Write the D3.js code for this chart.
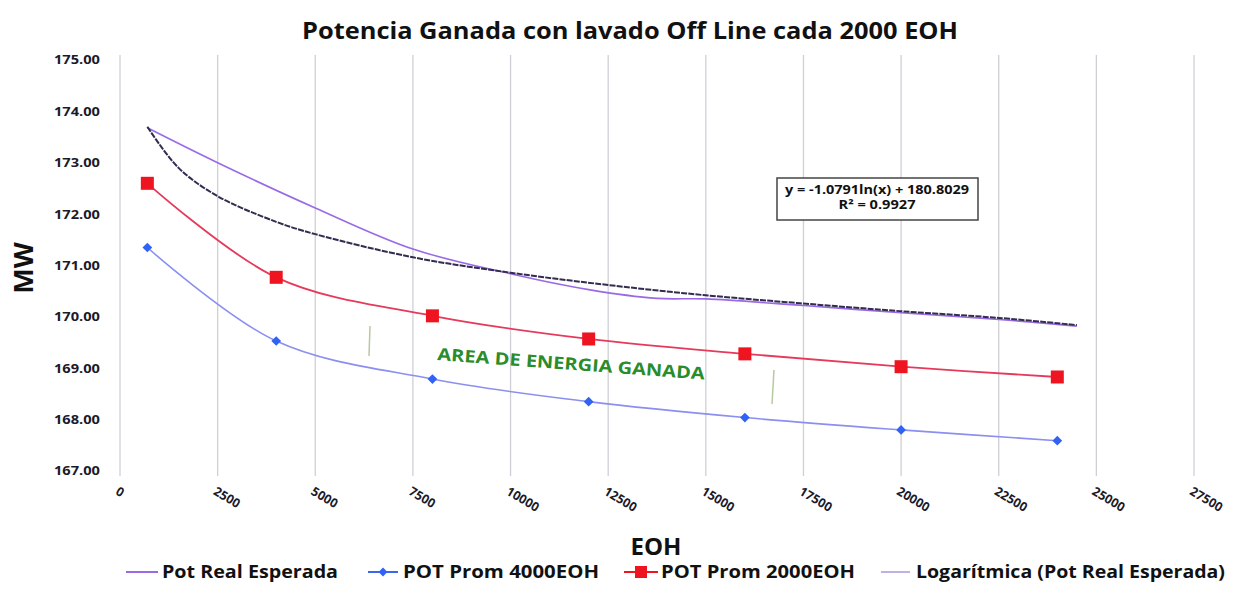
<!DOCTYPE html>
<html>
<head>
<meta charset="utf-8">
<script src="https://cdn.jsdelivr.net/npm/d3@7"></script>
<style>
  body { margin: 0; background: #fff; }
  svg { display: block; font-family: "Open Sans", Lato, sans-serif; font-weight: bold; }
</style>
</head>
<body>
<svg id="chart" width="1239" height="593"></svg>
<script>
// sample points (EOH) for the two averaged series
const eohPts = [700, 4000, 8000, 12000, 16000, 20000, 24000];
const pot4000 = [171.35, 169.53, 168.79, 168.35, 168.04, 167.80, 167.59];
const pot2000 = [172.60, 170.77, 170.02, 169.57, 169.28, 169.03, 168.83];

// expected real power
const realEOH = [700, 2500, 5000, 7500, 10000, 12000, 13750, 15000, 17500, 20000, 22500, 24500];
const realMW = [173.68, 173.00, 172.12, 171.32, 170.84, 170.53, 170.36, 170.35, 170.22, 170.08, 169.95, 169.82];

// logarithmic trend line as drawn
const trendEOH = [700, 1500, 2500, 4000, 5000, 7500, 10000, 12500, 15000, 17500, 20000, 22500, 24500];
const trendMW = [173.70, 172.90, 172.35, 171.85, 171.61, 171.16, 170.86, 170.62, 170.42, 170.26, 170.11, 169.98, 169.84];

const xTicks = [0, 2500, 5000, 7500, 10000, 12500, 15000, 17500, 20000, 22500, 25000, 27500];
const yTicks = [167, 168, 169, 170, 171, 172, 173, 174, 175];
const equation = ['y = -1.0791ln(x) + 180.8029', 'R² = 0.9927'];

const svg = d3.select('#chart');

const x = d3.scaleLinear().domain([0, 27500]).range([120, 1194]);
const y = d3.scaleLinear().domain([167, 175]).range([471, 60]);

// title
svg.append('text')
  .attr('x', 302).attr('y', 39)
  .attr('font-size', 23)
  .attr('fill', '#111')
  .attr('textLength', 656)
  .attr('lengthAdjust', 'spacingAndGlyphs')
  .text('Potencia Ganada con lavado Off Line cada 2000 EOH');

// vertical grid
svg.append('g')
  .selectAll('line')
  .data(xTicks)
  .join('line')
  .attr('x1', d => x(d)).attr('x2', d => x(d))
  .attr('y1', 55).attr('y2', 476)
  .attr('stroke', '#cfcfd8')
  .attr('stroke-width', 1.3);

// y tick labels
svg.append('g')
  .selectAll('text')
  .data(yTicks)
  .join('text')
  .attr('x', 54)
  .attr('y', d => y(d))
  .attr('dy', '0.35em')
  .attr('font-size', 12.5)
  .attr('fill', '#1a1a2a')
  .attr('textLength', 46)
  .attr('lengthAdjust', 'spacingAndGlyphs')
  .text(d => d.toFixed(2));

// x tick labels, rotated
svg.append('g')
  .selectAll('text')
  .data(xTicks)
  .join('text')
  .attr('transform', d => `translate(${x(d) - 3},${490}) rotate(31)`)
  .attr('dy', '0.35em')
  .attr('font-size', 12.5)
  .attr('fill', '#1a1a2a')
  .text(d => d);

// axis titles
svg.append('text')
  .attr('transform', 'translate(33,268) rotate(-90)')
  .attr('text-anchor', 'middle')
  .attr('font-size', 27)
  .attr('fill', '#111')
  .text('MW');

svg.append('text')
  .attr('x', 656).attr('y', 555)
  .attr('text-anchor', 'middle')
  .attr('font-size', 24)
  .attr('fill', '#111')
  .text('EOH');

const smooth = d3.line().curve(d3.curveCatmullRom.alpha(0.5));

// expected real power
svg.append('path')
  .attr('d', smooth(realEOH.map((d, i) => [x(d), y(realMW[i])])))
  .attr('fill', 'none')
  .attr('stroke', '#9a6ae6')
  .attr('stroke-width', 1.6);

// log trend
svg.append('path')
  .attr('d', smooth(trendEOH.map((d, i) => [x(d), y(trendMW[i])])))
  .attr('fill', 'none')
  .attr('stroke', '#322c4e')
  .attr('stroke-width', 2)
  .attr('stroke-dasharray', '6,1.2');

// POT Prom 4000EOH
svg.append('path')
  .attr('d', smooth(eohPts.map((d, i) => [x(d), y(pot4000[i])])))
  .attr('fill', 'none')
  .attr('stroke', '#8a8ff0')
  .attr('stroke-width', 1.6);

svg.append('g')
  .selectAll('path')
  .data(eohPts)
  .join('path')
  .attr('d', d3.symbol(d3.symbolDiamond2, 60))
  .attr('transform', (d, i) => `translate(${x(d)},${y(pot4000[i])})`)
  .attr('fill', '#2f62f5');

// POT Prom 2000EOH
svg.append('path')
  .attr('d', smooth(eohPts.map((d, i) => [x(d), y(pot2000[i])])))
  .attr('fill', 'none')
  .attr('stroke', '#e63a5c')
  .attr('stroke-width', 1.8);

svg.append('g')
  .selectAll('rect')
  .data(eohPts)
  .join('rect')
  .attr('x', d => x(d) - 6.5)
  .attr('y', (d, i) => y(pot2000[i]) - 6.5)
  .attr('width', 13).attr('height', 13)
  .attr('fill', '#ee1520');

// energy gained annotation
svg.append('line')
  .attr('x1', 370).attr('x2', 369).attr('y1', 326).attr('y2', 356)
  .attr('stroke', '#b8c8a0').attr('stroke-width', 1.5);
svg.append('line')
  .attr('x1', 774).attr('x2', 772).attr('y1', 370).attr('y2', 404)
  .attr('stroke', '#b8c8a0').attr('stroke-width', 1.5);

svg.append('text')
  .attr('transform', 'translate(437,360) rotate(4.2)')
  .attr('font-size', 17)
  .attr('fill', '#2a8c2a')
  .attr('textLength', 268)
  .attr('lengthAdjust', 'spacingAndGlyphs')
  .text('AREA DE ENERGIA GANADA');

// equation box
const eq = svg.append('g');
eq.append('rect')
  .attr('x', 777).attr('y', 178)
  .attr('width', 201).attr('height', 42)
  .attr('fill', '#fff')
  .attr('stroke', '#444')
  .attr('stroke-width', 1.5);
eq.selectAll('text')
  .data(equation)
  .join('text')
  .attr('x', 877)
  .attr('y', (d, i) => 194 + i * 15)
  .attr('text-anchor', 'middle')
  .attr('font-size', 11.5)
  .attr('fill', '#111')
  .attr('textLength', (d, i) => i === 0 ? 184 : 77)
  .attr('lengthAdjust', 'spacingAndGlyphs')
  .text(d => d);

// legend
const legend = svg.append('g').attr('font-size', 17).attr('fill', '#111');
const ly = 572;
const items = [
  { x0: 126, x1: 158, tx: 162, w: 176, color: '#9a6ae6', label: 'Pot Real Esperada', mark: null },
  { x0: 368, x1: 398, tx: 403, w: 196, color: '#3a66f0', label: 'POT Prom 4000EOH', mark: 'diamond' },
  { x0: 624, x1: 658, tx: 661, w: 194, color: '#ee1520', label: 'POT Prom 2000EOH', mark: 'square' },
  { x0: 881, x1: 910, tx: 916, w: 309, color: '#c4aee6', label: 'Logarítmica (Pot Real Esperada)', mark: null }
];
items.forEach(it => {
  legend.append('line')
    .attr('x1', it.x0).attr('x2', it.x1)
    .attr('y1', ly).attr('y2', ly)
    .attr('stroke', it.color).attr('stroke-width', 2);
  if (it.mark === 'diamond') {
    legend.append('path')
      .attr('d', d3.symbol(d3.symbolDiamond2, 50))
      .attr('transform', `translate(${(it.x0 + it.x1) / 2},${ly})`)
      .attr('fill', '#2f62f5');
  } else if (it.mark === 'square') {
    legend.append('rect')
      .attr('x', (it.x0 + it.x1) / 2 - 6).attr('y', ly - 6)
      .attr('width', 12).attr('height', 12)
      .attr('fill', it.color);
  }
  legend.append('text')
    .attr('x', it.tx).attr('y', ly)
    .attr('dy', '0.35em')
    .attr('textLength', it.w)
    .attr('lengthAdjust', 'spacingAndGlyphs')
    .text(it.label);
});
</script>
</body>
</html>
